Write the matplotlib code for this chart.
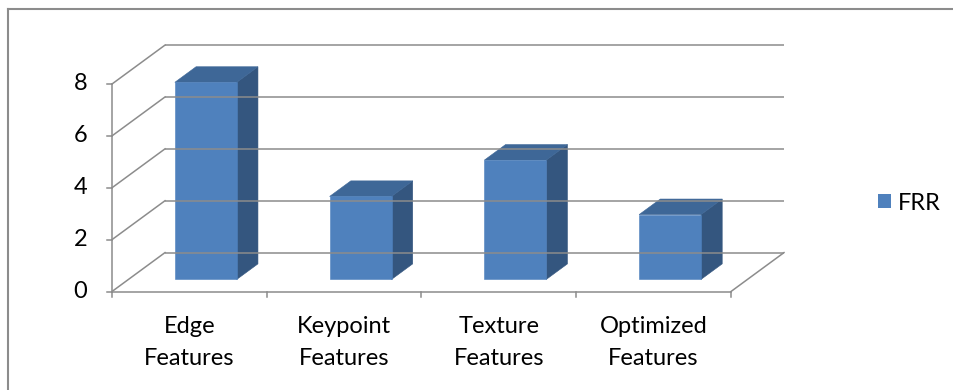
import numpy as np
import matplotlib.pyplot as plt
from matplotlib.patches import Patch

# FRR per feature type
categories = ["Edge\nFeatures", "Keypoint\nFeatures", "Texture\nFeatures", "Optimized\nFeatures"]
frr = [7.6, 3.2, 4.6, 2.5]
y_ticks = [0, 2, 4, 6, 8]

# oblique "3D" projection: depth d in [0, 1] shifts right/up
DEPTH_X = 0.3425      # category units
DEPTH_Y = 1.5         # value units
BAR_D0, BAR_D1 = 0.31, 0.71
BAR_W = 0.40

GRID = "#8c8c8c"
FRONT = "#4f81bd"
SIDE = "#34567f"
TOP = "#3e6797"
FS = 17

plt.rcParams["font.family"] = ["Lato", "DejaVu Sans"]


def proj(x, v, d):
    return x + d * DEPTH_X, v + d * DEPTH_Y


fig = plt.figure(figsize=(9.54, 3.9), dpi=100)
ax = fig.add_axes([0, 0, 1, 1])

# map data units onto the canvas (floor front edge at x 0..4, value 0..8)
px_cat = 619 / 4
px_val = 207.5 / 8
x0_px, y0_px = 112, 390 - 291.5
ax.set_xlim(-x0_px / px_cat, (954 - x0_px) / px_cat)
ax.set_ylim(-y0_px / px_val, (390 - y0_px) / px_val)
ax.axis("off")

n = len(categories)
lw = 1.1

# back wall gridlines and left wall
for v in y_ticks:
    bx0, by = proj(0, v, 1)
    bx1, _ = proj(n, v, 1)
    ax.plot([bx0, bx1], [by, by], color=GRID, lw=lw, solid_capstyle="butt")
    ax.plot([0, bx0], [v, by], color=GRID, lw=lw)

# floor
fx, fy = proj(n, 0, 1)
ax.plot([0, n], [0, 0], color=GRID, lw=lw)
ax.plot([n, fx], [0, fy], color=GRID, lw=lw)

# vertical axis with ticks
ax.plot([0, 0], [0, max(y_ticks)], color=GRID, lw=lw)
for v in y_ticks:
    ax.plot([-0.035, 0], [v, v], color=GRID, lw=lw)
    ax.text(-0.16, v, str(v), ha="right", va="center", fontsize=FS)

# category ticks and labels
for i in range(n + 1):
    ax.plot([i, i], [0, -0.22], color=GRID, lw=lw)
for i, lab in enumerate(categories):
    ax.text(i + 0.5, -0.95, lab, ha="center", va="top", fontsize=FS,
            linespacing=1.62)

# bars
for i, val in enumerate(frr):
    xl = i + 0.5 - BAR_W / 2
    xr = i + 0.5 + BAR_W / 2
    a = proj(xl, 0, BAR_D0)
    b = proj(xr, 0, BAR_D0)
    c = proj(xr, val, BAR_D0)
    d = proj(xl, val, BAR_D0)
    b2 = proj(xr, 0, BAR_D1)
    c2 = proj(xr, val, BAR_D1)
    d2 = proj(xl, val, BAR_D1)
    side = [b, b2, c2, c]
    top = [d, c, c2, d2]
    front = [a, b, c, d]
    for poly, col in [(side, SIDE), (top, TOP), (front, FRONT)]:
        xs, ys = zip(*poly)
        ax.fill(xs, ys, color=col, lw=0.4, ec=col)

# chart border (top and left edges)
ax.plot([8 / px_cat - x0_px / px_cat] * 2,
        [ax.get_ylim()[0], (390 - 8.5 - y0_px) / px_val], color=GRID, lw=1.5)
ax.axhline((390 - 8.5 - y0_px) / px_val, xmin=8 / 954, color=GRID, lw=1.5)

ax.legend(handles=[Patch(facecolor=FRONT, label="FRR")],
          loc="center left", bbox_to_anchor=(878 / 954, 1 - 203 / 390),
          frameon=False, fontsize=FS, handlelength=0.55, handleheight=0.55,
          handletextpad=0.3, borderpad=0, borderaxespad=0)

fig.savefig("out.png", dpi=100)
